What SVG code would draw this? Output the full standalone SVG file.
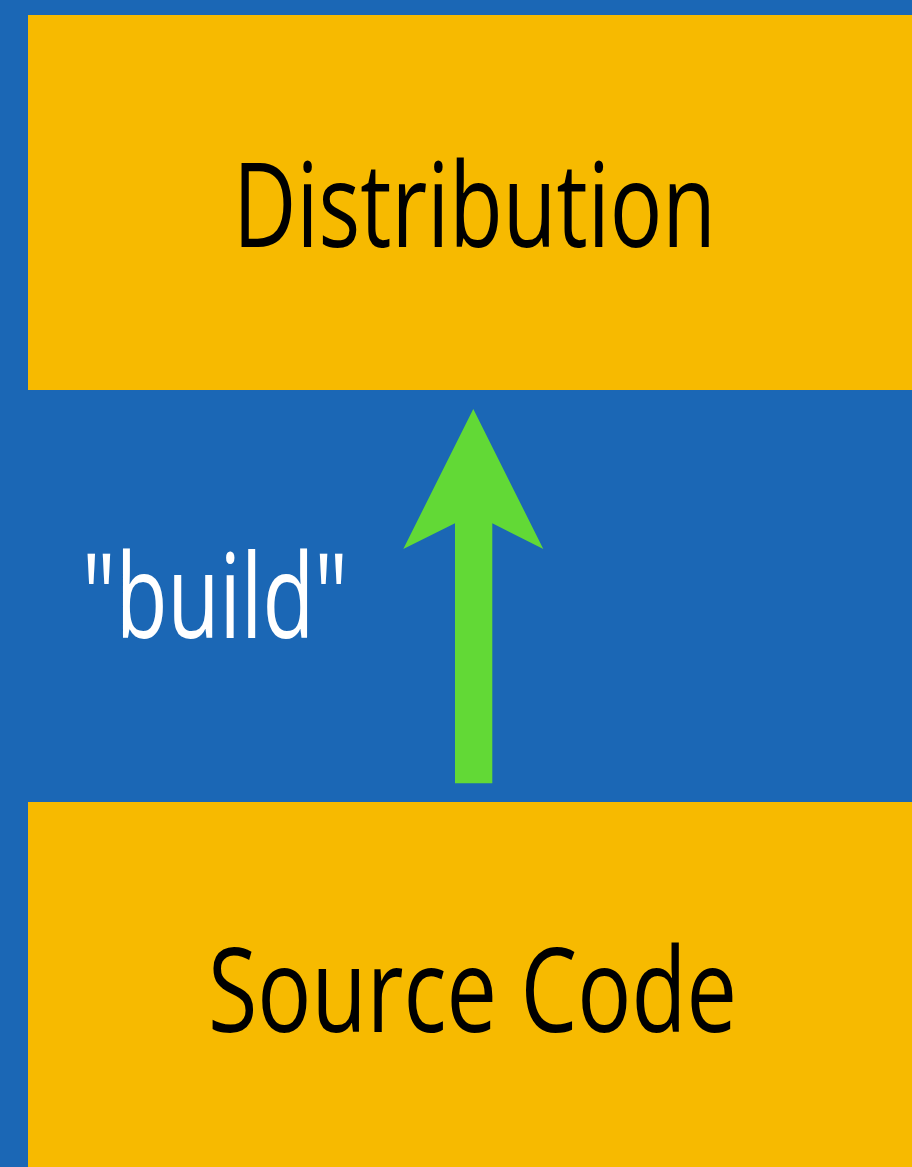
<svg xmlns="http://www.w3.org/2000/svg" width="912" height="1167" viewBox="0 0 912 1167">
<style>
.box{fill:#F7BA00}
.lbl{font-family:"Open Sans","DejaVu Sans Condensed",sans-serif;font-size:118px;fill:#000}
.note{font-family:"Open Sans","DejaVu Sans Condensed",sans-serif;font-size:118px;fill:#fff}
</style>
<rect width="912" height="1167" fill="#1B67B5"/>
<g id="distribution">
<rect class="box" x="28" y="15" width="884" height="375"/>
<text class="lbl" x="233" y="247" textLength="483" lengthAdjust="spacingAndGlyphs">Distribution</text>
</g>
<g id="source-code">
<rect class="box" x="28" y="802" width="884" height="365"/>
<text class="lbl" x="208" y="1032" textLength="529" lengthAdjust="spacingAndGlyphs">Source Code</text>
</g>
<g id="connectors">
<polygon fill="#62D936" points="473.3,409 543.3,549 492.3,523.3 492.3,783.3 455,783.3 455,523.3 403.3,549"/>
<text class="note" x="82" y="638" textLength="266" lengthAdjust="spacingAndGlyphs">"build"</text>
</g>
</svg>
